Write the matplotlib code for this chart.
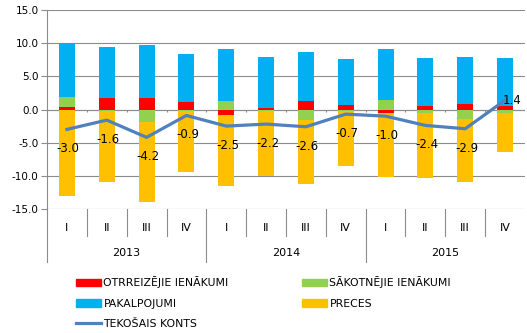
import matplotlib.pyplot as plt
import matplotlib.transforms as mtransforms
from matplotlib.patches import Patch
from matplotlib.lines import Line2D
import numpy as np

quarters = ['I', 'II', 'III', 'IV'] * 3
years = ['2013', '2014', '2015']

# series values (share of GDP, %)
otrreizejie = [0.35, 1.7, 1.7, 1.15, -0.85, 0.25, 1.3, 0.65, -0.5, 0.5, 0.8, 0.6]
sakotnejie = [1.5, -0.25, -1.9, -0.25, 1.3, -0.2, -1.55, -0.25, 1.45, -0.55, -1.45, -0.55]
pakalpojumi = [8.25, 7.65, 7.95, 7.15, 7.75, 7.6, 7.3, 6.9, 7.6, 7.2, 7.05, 7.1]
preces = [-13.1, -10.75, -12.1, -9.15, -10.75, -9.9, -9.75, -8.2, -9.65, -9.75, -9.45, -5.85]
tekosais = [-3.0, -1.6, -4.2, -0.9, -2.5, -2.2, -2.6, -0.7, -1.0, -2.4, -2.9, 1.4]

names = ['OTRREIZĒJIE IENĀKUMI', 'SĀKOTNĒJIE IENĀKUMI', 'PAKALPOJUMI', 'PRECES']
colors = ['#FF0000', '#92D050', '#00B0F0', '#FFC000']
line_color = '#4F81BD'
grid_color = '#8C8C8C'

fig = plt.figure(figsize=(5.27, 3.33), dpi=100)
ax = fig.add_axes([47 / 527, 1 - 209 / 333, (525 - 47) / 527, 199 / 333])

n = len(quarters)
x = np.arange(n) + 0.5
pos_base = np.zeros(n)
neg_base = np.zeros(n)
for vals, c in zip([otrreizejie, sakotnejie, pakalpojumi, preces], colors):
    v = np.array(vals)
    bottom = np.where(v >= 0, pos_base, neg_base)
    ax.bar(x, v, width=0.4, bottom=bottom, color=c, zorder=3)
    pos_base = pos_base + np.where(v >= 0, v, 0)
    neg_base = neg_base + np.where(v < 0, v, 0)

ax.plot(x, tekosais, color=line_color, lw=2.3, zorder=4)
for xi, v in zip(x, tekosais):
    if v < 0:
        ax.annotate(f'{v:.1f}', (xi, v), xytext=(1, -14), textcoords='offset points',
                    ha='center', va='center', fontsize=8.5, zorder=5)
    else:
        ax.annotate(f'{v:.1f}', (xi, v), xytext=(5, 0), textcoords='offset points',
                    ha='center', va='center', fontsize=8.5, zorder=5)

ax.set_xlim(0, n)
ax.set_ylim(-15, 15)
ax.set_yticks(np.arange(-15, 16, 5))
ax.set_yticklabels([f'{t:.1f}' for t in np.arange(-15, 16, 5)], fontsize=7.5)
ax.yaxis.grid(True, color=grid_color, lw=0.8, zorder=0)
ax.tick_params(axis='y', length=4, color=grid_color, pad=2)
ax.set_xticks([])
for s in ['top', 'right', 'bottom']:
    ax.spines[s].set_visible(False)
ax.spines['left'].set_color(grid_color)
ax.spines['left'].set_zorder(1)

# zero axis with small ticks at category boundaries
ax.axhline(0, color=grid_color, lw=0.8, zorder=2)
ax.vlines(np.arange(1, n + 1), -0.45, 0, color=grid_color, lw=0.8, zorder=2)

# category labels below the plot
trans = mtransforms.blended_transform_factory(ax.transData, ax.transAxes)
for i in range(1, n):
    if i % 4 == 0:
        ax.plot([i, i], [0, -0.266], transform=trans, color=grid_color, lw=0.8, clip_on=False)
    else:
        ax.plot([i, i], [0, -0.136], transform=trans, color=grid_color, lw=0.8, clip_on=False)
ax.plot([0, 0], [0, -0.266], transform=trans, color=grid_color, lw=0.8, clip_on=False)
for xi, q in zip(x, quarters):
    ax.text(xi, -0.094, q, transform=trans, ha='center', va='center', fontsize=8)
for j, y in enumerate(years):
    ax.text(4 * j + 2, -0.221, y, transform=trans, ha='center', va='center', fontsize=8)

handles = [Patch(color=colors[0]), Patch(color=colors[2]),
           Line2D([0], [0], color=line_color, lw=2.3),
           Patch(color=colors[1]), Patch(color=colors[3])]
labels = [names[0], names[2], 'TEKOŠAIS KONTS', names[1], names[3]]
fig.legend(handles, labels, ncol=2, loc='upper left', bbox_to_anchor=(72 / 527, 1 - 272 / 333),
           frameon=False, fontsize=7.8, handlelength=2.3, handleheight=0.7,
           handletextpad=0.2, labelspacing=0.95, columnspacing=6.8, borderaxespad=0)

fig.savefig('out.png', dpi=100)
